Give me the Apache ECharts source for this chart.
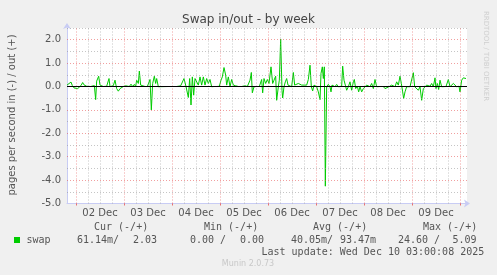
<!DOCTYPE html>
<html><head><meta charset="utf-8">
<script src="https://cdn.jsdelivr.net/npm/echarts@6/dist/echarts.min.js"></script>
<style>html,body{margin:0;padding:0;background:#f0f0f0}#c{width:497px;height:275px}</style>
</head><body><div id="c"></div>
<script>
// ---- data ----
const dayLabels = ['02 Dec','03 Dec','04 Dec','05 Dec','06 Dec','07 Dec','08 Dec','09 Dec'];
// hours since 02 Dec 00:00
const hours = [-4.5,-3.5,-2.5,-1.83,-1,0,0.83,1.67,2.5,3.33,4,4.5,5.33,6.33,7.33,8.33,9.17,9.83,10.33,10.83,11.33,12,12.83,13.67,14.5,15.33,16,16.5,17,17.83,18.67,19.5,20.33,21.17,22,22.83,23.67,24.83,25.83,26.67,27.5,28.33,29.17,29.83,30.33,31.17,31.67,32.33,33.33,34.5,35.67,36.5,37,37.67,38.33,39.17,39.83,40.33,41.17,42,46,50.33,52.33,53.33,54,55,56.17,56.83,57.5,58.17,58.83,59.5,60.33,61.17,62,62.83,63.67,64.5,65.33,66.17,67,67.83,69,70.33,71.67,72.5,73.17,74,74.83,75.33,76.17,77,77.83,78.67,79.83,81.17,82.83,84.5,85.67,86.5,87,87.67,88.17,89,90.33,91.67,92.83,93.33,94,94.83,95.67,96.5,97,97.5,98.33,99,99.83,100.33,101.17,101.67,102.33,103,103.33,104,104.67,105.33,106,106.67,107.83,108.67,109.33,110.33,111.17,112,112.83,113.67,115.33,116.17,117,117.67,118.33,119,119.67,120.33,121.17,122,122.5,123.17,123.67,124.17,124.67,125.33,126.17,127,127.5,128,128.67,129.5,130.33,131.17,132,132.83,133.33,134,134.67,135.33,136.17,137,137.83,138.67,139.17,139.83,140.67,141.33,142,142.83,143.67,144.5,145.33,146.17,147,147.83,148.67,149.5,150.33,152,153.67,154.5,155.33,156.67,157.83,158.67,159.5,160.33,161.17,162,162.67,163.33,163.83,164.5,165.33,166.17,167,167.83,168.67,169.33,170.33,171.17,172,172.83,173.67,174.5,175.33,176.17,177,177.83,178.67,179.5,180,180.67,181.33,182,182.83,183.67,185,186.17,187,187.83,188.67,189.5,190.33,191.5,192,192.83,193.67,194.5,195];
// pages per second: in (-) / out (+)
const swap = [0.06,0.1,0.19,0.04,-0.06,-0.01,-0.09,-0.04,0.04,0.17,0.07,0.13,0.01,0.03,0,0.01,0.04,-0.56,0.23,0.16,0.44,0.06,0,0,0,0.01,0.07,0.34,-0.01,0,0.04,0.27,-0.09,-0.2,-0.09,-0.06,0,0.03,0.09,0,0.1,0,0.09,0,0.27,0.13,0.66,0.06,0,0,0,0.04,0.3,-1.0,0.13,0.44,0.13,0.34,-0.01,0,0,0,0.03,0.04,0.34,0,-0.47,0.34,-0.79,0.41,-0.37,0.34,0.41,0.06,0.41,0.06,0.41,0.06,0.34,0.13,0.3,-0.01,0,0,0.01,0.27,0.41,0.81,0.49,0.06,0.41,-0.01,0.3,0.06,0.03,0,0,0.03,0,0.06,0.27,0.6,-0.27,-0.01,0,0,0.3,-0.27,0.34,0.13,0.3,0.13,0.49,0.84,0.13,0.27,0.44,-0.59,-0.01,0.27,2.03,-0.16,-0.49,-0.01,0.2,0.34,0.06,0.13,-0.01,0.6,0.06,0.06,0.13,0.13,0.06,0,0.06,0.3,0.91,-0.01,-0.19,0.06,-0.01,-0.01,-0.23,-0.56,0.56,0.84,0.34,0.84,-4.26,-0.01,0.09,-0.01,-0.23,0.06,0.01,-0.01,0.09,-0.01,0.06,0,0.87,0.27,0.06,-0.16,-0.01,0.2,-0.16,0.2,0.3,-0.09,0.01,-0.23,-0.01,-0.23,-0.09,-0.01,0.06,0.01,-0.01,0.13,-0.09,0.3,-0.01,0,0,-0.09,-0.01,0,0.06,0.13,-0.01,0.2,0.06,0.44,0.13,-0.23,-0.51,-0.23,-0.01,0,-0.01,0.06,0.59,-0.01,-0.01,-0.16,-0.01,-0.59,-0.09,-0.01,0.06,0.13,0.01,0.13,-0.01,0.37,-0.09,0.13,-0.13,0.27,-0.01,-0.01,0,0.3,-0.01,-0.01,0.13,0.2,-0.01,0.01,-0.23,0.27,0.37,0.36,0.34];
const yTicks = [-5,-4,-3,-2,-1,0,1,2];
const yMinorTicks = [-4.5,-3.5,-2.5,-1.5,-0.5,0.5,1.5,2.5];
const legendHeads = ['Cur (-/+)','Min (-/+)','Avg (-/+)','Max (-/+)'];
const legendVals = ['61.14m/','2.03','0.00 /','0.00','40.05m/','93.47m','24.60 /','5.09'];
const lastUpdate = 'Last update: Wed Dec 10 03:00:08 2025';

// ---- layout / style ----
const headX = [94, 204, 313, 423];
const valX = [77, 133, 190, 240, 291, 340, 398, 452.5];
const GREEN = '#00cc00';
const MAJOR = {color: 'rgba(230,80,80,0.55)', type: [1, 2], width: 1};
const MINOR = {color: 'rgba(150,150,150,0.55)', type: [1, 2], width: 1};

const midnights = dayLabels.map((_, i) => 24 * i).concat([24 * dayLabels.length]);
const noons = dayLabels.map((_, i) => 12 + 24 * i);
const minorX = [];
midnights.forEach(m => [6, 12, 18].forEach(o => { if (m + o < 195.5) minorX.push(m + o); }));

const gridLines = []
  .concat(minorX.map(v => ({xAxis: v, lineStyle: MINOR})))
  .concat(yMinorTicks.map(v => ({yAxis: v, lineStyle: MINOR})))
  .concat(midnights.map(v => ({xAxis: v, lineStyle: MAJOR})))
  .concat(yTicks.filter(v => v !== -5 && v !== 0).map(v => ({yAxis: v, lineStyle: MAJOR})));

const mono = 'DejaVu Sans Mono';
const txt = (x, y, s, extra) => ({type: 'text', x, y, silent: true,
  style: Object.assign({text: s, font: '10px ' + mono, fill: '#555', verticalAlign: 'middle', align: 'left'}, extra || {})});

const graphics = [
  {type: 'text', x: 248.5, y: 19.5, style: {text: 'Swap in/out - by week', font: '12px "DejaVu Sans"', fill: '#444', align: 'center', verticalAlign: 'middle'}},
  {type: 'text', x: 12, y: 115, rotation: Math.PI / 2, style: {text: 'pages per second in (-) / out (+)', font: '10px "DejaVu Sans"', fill: '#555', align: 'center', verticalAlign: 'middle'}},
  {type: 'text', x: 486, y: 56, rotation: -Math.PI / 2, style: {text: 'RRDTOOL / TOBI OETIKER', font: '7px "DejaVu Sans"', fill: '#cfcfcf', align: 'center', verticalAlign: 'middle'}},
  {type: 'rect', shape: {x: 14, y: 237, width: 6, height: 6}, style: {fill: GREEN}},
  txt(26.5, 240, 'swap'),
  txt(261.5, 252, lastUpdate),
  {type: 'text', x: 248, y: 264, style: {text: 'Munin 2.0.73', font: '8px "DejaVu Sans"', fill: '#c8c8c8', align: 'center', verticalAlign: 'middle'}}
];
legendHeads.forEach((h, i) => graphics.push(txt(headX[i], 227.5, h)));
legendVals.forEach((v, i) => graphics.push(txt(valX[i], 240, v)));

const chart = echarts.init(document.getElementById('c'), null, {renderer: 'canvas'});
chart.setOption({
  backgroundColor: '#f0f0f0',
  animation: false,
  grid: {left: 67, top: 28, width: 400, height: 175.5, backgroundColor: '#fff', show: true, borderWidth: 0},
  xAxis: {
    type: 'value', min: -4.5, max: 195.5,
    splitLine: {show: false},
    axisLine: {onZero: false, lineStyle: {color: '#c8ccf4'}, symbol: ['none', 'arrow'], symbolSize: [6, 6], symbolOffset: [0, 3]},
    axisTick: {show: true, customValues: midnights, length: 2, lineStyle: {color: 'rgba(230,80,80,0.8)'}},
    axisLabel: {customValues: noons, formatter: v => dayLabels[Math.round((v - 12) / 24)] || '', color: '#555', fontFamily: 'DejaVu Sans', fontSize: 10, margin: 5}
  },
  yAxis: {
    type: 'value', min: -5, max: 2.5, interval: 1,
    splitLine: {show: false},
    axisLine: {show: true, onZero: false, lineStyle: {color: '#c8ccf4'}, symbol: ['none', 'arrow'], symbolSize: [6, 6], symbolOffset: [0, 5]},
    axisTick: {show: false},
    axisLabel: {formatter: v => Number.isInteger(v) ? v.toFixed(1) : '', color: '#555', fontFamily: 'DejaVu Sans', fontSize: 10, margin: 6, showMaxLabel: false}
  },
  graphic: graphics,
  series: [
    {type: 'line', z: 1, data: [], silent: true,
     markLine: {silent: true, symbol: ['none', 'none'], label: {show: false}, emphasis: {disabled: true}, data: gridLines}},
    {name: 'swap', type: 'line', z: 2, showSymbol: false, silent: true,
     data: hours.map((h, i) => [h, swap[i]]),
     lineStyle: {color: GREEN, width: 1}, itemStyle: {color: GREEN}},
    {type: 'line', z: 3, data: [], silent: true,
     markLine: {silent: true, symbol: ['none', 'none'], label: {show: false}, emphasis: {disabled: true},
       data: [{yAxis: 0, lineStyle: {color: '#000', type: 'solid', width: 1}}]}}
  ]
});
</script></body></html>
